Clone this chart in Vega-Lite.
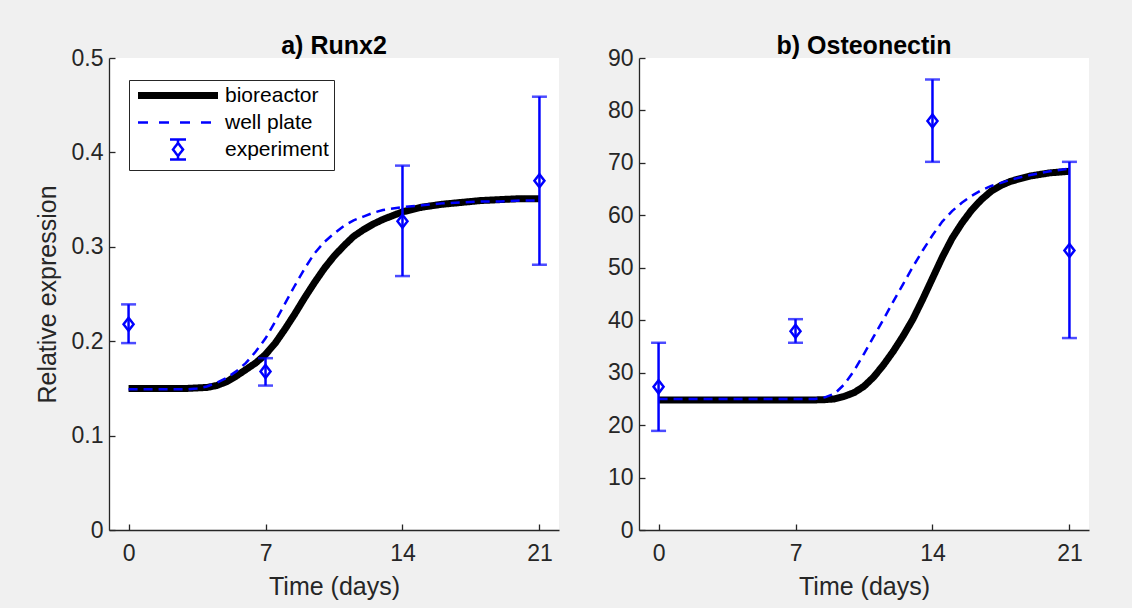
{
  "$schema": "https://vega.github.io/schema/vega-lite/v6.json",
  "background": "#f0f0f0",
  "padding": {"left": 35, "top": 34, "right": 46, "bottom": 16},
  "bounds": "flush",
  "spacing": 80,
  "config": {
    "view": {"fill": "white", "stroke": null},
    "font": "Liberation Sans",
    "axis": {"domainColor": "#262626", "domainWidth": 1.3, "tickColor": "#262626", "tickWidth": 1.3, "tickSize": -6, "labelColor": "#262626", "labelFont": "Liberation Sans", "labelFontSize": 23, "titleFont": "Liberation Sans", "titleFontSize": 25, "titleFontWeight": "normal", "titleColor": "#262626", "grid": false},
    "axisX": {"labelPadding": 18, "titlePadding": 9},
    "axisY": {"labelPadding": 12, "titlePadding": 11},
    "title": {"font": "Liberation Sans", "fontSize": 25, "fontWeight": "bold", "color": "black", "offset": -12, "frame": "group"}
  },
  "resolve": {"scale": {"color": "independent", "strokeDash": "independent", "strokeWidth": "independent"}, "legend": {"color": "independent"}},
  "datasets": {
    "runx2_model": [
      {"day": 0, "value": 0.150, "series": "bioreactor"},
      {"day": 1, "value": 0.150, "series": "bioreactor"},
      {"day": 2, "value": 0.150, "series": "bioreactor"},
      {"day": 3, "value": 0.150, "series": "bioreactor"},
      {"day": 3.5, "value": 0.1505, "series": "bioreactor"},
      {"day": 4, "value": 0.151, "series": "bioreactor"},
      {"day": 4.5, "value": 0.153, "series": "bioreactor"},
      {"day": 5, "value": 0.157, "series": "bioreactor"},
      {"day": 5.5, "value": 0.163, "series": "bioreactor"},
      {"day": 6, "value": 0.170, "series": "bioreactor"},
      {"day": 6.5, "value": 0.177, "series": "bioreactor"},
      {"day": 7, "value": 0.186, "series": "bioreactor"},
      {"day": 7.5, "value": 0.198, "series": "bioreactor"},
      {"day": 8, "value": 0.213, "series": "bioreactor"},
      {"day": 8.5, "value": 0.229, "series": "bioreactor"},
      {"day": 9, "value": 0.246, "series": "bioreactor"},
      {"day": 9.5, "value": 0.262, "series": "bioreactor"},
      {"day": 10, "value": 0.277, "series": "bioreactor"},
      {"day": 10.5, "value": 0.290, "series": "bioreactor"},
      {"day": 11, "value": 0.301, "series": "bioreactor"},
      {"day": 11.5, "value": 0.311, "series": "bioreactor"},
      {"day": 12, "value": 0.318, "series": "bioreactor"},
      {"day": 12.5, "value": 0.324, "series": "bioreactor"},
      {"day": 13, "value": 0.329, "series": "bioreactor"},
      {"day": 14, "value": 0.337, "series": "bioreactor"},
      {"day": 15, "value": 0.342, "series": "bioreactor"},
      {"day": 16, "value": 0.345, "series": "bioreactor"},
      {"day": 17, "value": 0.347, "series": "bioreactor"},
      {"day": 18, "value": 0.349, "series": "bioreactor"},
      {"day": 19, "value": 0.350, "series": "bioreactor"},
      {"day": 20, "value": 0.351, "series": "bioreactor"},
      {"day": 21, "value": 0.351, "series": "bioreactor"},
      {"day": 0, "value": 0.149, "series": "well plate"},
      {"day": 1, "value": 0.149, "series": "well plate"},
      {"day": 2, "value": 0.149, "series": "well plate"},
      {"day": 3, "value": 0.149, "series": "well plate"},
      {"day": 3.5, "value": 0.150, "series": "well plate"},
      {"day": 4, "value": 0.152, "series": "well plate"},
      {"day": 4.5, "value": 0.156, "series": "well plate"},
      {"day": 5, "value": 0.161, "series": "well plate"},
      {"day": 5.5, "value": 0.168, "series": "well plate"},
      {"day": 6, "value": 0.177, "series": "well plate"},
      {"day": 6.5, "value": 0.189, "series": "well plate"},
      {"day": 7, "value": 0.203, "series": "well plate"},
      {"day": 7.5, "value": 0.221, "series": "well plate"},
      {"day": 8, "value": 0.240, "series": "well plate"},
      {"day": 8.5, "value": 0.259, "series": "well plate"},
      {"day": 9, "value": 0.277, "series": "well plate"},
      {"day": 9.5, "value": 0.293, "series": "well plate"},
      {"day": 10, "value": 0.305, "series": "well plate"},
      {"day": 10.5, "value": 0.314, "series": "well plate"},
      {"day": 11, "value": 0.322, "series": "well plate"},
      {"day": 11.5, "value": 0.328, "series": "well plate"},
      {"day": 12, "value": 0.332, "series": "well plate"},
      {"day": 12.5, "value": 0.336, "series": "well plate"},
      {"day": 13, "value": 0.339, "series": "well plate"},
      {"day": 14, "value": 0.342, "series": "well plate"},
      {"day": 15, "value": 0.344, "series": "well plate"},
      {"day": 16, "value": 0.346, "series": "well plate"},
      {"day": 17, "value": 0.347, "series": "well plate"},
      {"day": 18, "value": 0.348, "series": "well plate"},
      {"day": 19, "value": 0.348, "series": "well plate"},
      {"day": 20, "value": 0.349, "series": "well plate"},
      {"day": 21, "value": 0.349, "series": "well plate"}
    ],
    "runx2_exp": [
      {"day": 0, "mean": 0.218, "lo": 0.198, "hi": 0.239},
      {"day": 7, "mean": 0.168, "lo": 0.153, "hi": 0.182},
      {"day": 14, "mean": 0.327, "lo": 0.269, "hi": 0.386},
      {"day": 21, "mean": 0.370, "lo": 0.281, "hi": 0.459}
    ],
    "osteo_model": [
      {"day": 0, "value": 24.8, "series": "bioreactor"},
      {"day": 2, "value": 24.8, "series": "bioreactor"},
      {"day": 4, "value": 24.8, "series": "bioreactor"},
      {"day": 6, "value": 24.8, "series": "bioreactor"},
      {"day": 8, "value": 24.8, "series": "bioreactor"},
      {"day": 8.5, "value": 24.85, "series": "bioreactor"},
      {"day": 9, "value": 25.0, "series": "bioreactor"},
      {"day": 9.5, "value": 25.5, "series": "bioreactor"},
      {"day": 10, "value": 26.2, "series": "bioreactor"},
      {"day": 10.5, "value": 27.4, "series": "bioreactor"},
      {"day": 11, "value": 29.2, "series": "bioreactor"},
      {"day": 11.5, "value": 31.5, "series": "bioreactor"},
      {"day": 12, "value": 34.1, "series": "bioreactor"},
      {"day": 12.5, "value": 37.0, "series": "bioreactor"},
      {"day": 13, "value": 40.2, "series": "bioreactor"},
      {"day": 13.5, "value": 44.0, "series": "bioreactor"},
      {"day": 14, "value": 48.0, "series": "bioreactor"},
      {"day": 14.5, "value": 52.0, "series": "bioreactor"},
      {"day": 15, "value": 55.6, "series": "bioreactor"},
      {"day": 15.5, "value": 58.5, "series": "bioreactor"},
      {"day": 16, "value": 61.0, "series": "bioreactor"},
      {"day": 16.5, "value": 63.0, "series": "bioreactor"},
      {"day": 17, "value": 64.6, "series": "bioreactor"},
      {"day": 17.5, "value": 65.7, "series": "bioreactor"},
      {"day": 18, "value": 66.5, "series": "bioreactor"},
      {"day": 19, "value": 67.5, "series": "bioreactor"},
      {"day": 20, "value": 68.1, "series": "bioreactor"},
      {"day": 21, "value": 68.4, "series": "bioreactor"},
      {"day": 0, "value": 25.0, "series": "well plate"},
      {"day": 2, "value": 25.0, "series": "well plate"},
      {"day": 4, "value": 25.0, "series": "well plate"},
      {"day": 6, "value": 25.0, "series": "well plate"},
      {"day": 8, "value": 25.0, "series": "well plate"},
      {"day": 8.5, "value": 25.3, "series": "well plate"},
      {"day": 9, "value": 26.0, "series": "well plate"},
      {"day": 9.5, "value": 27.8, "series": "well plate"},
      {"day": 10, "value": 30.4, "series": "well plate"},
      {"day": 10.5, "value": 33.6, "series": "well plate"},
      {"day": 11, "value": 36.9, "series": "well plate"},
      {"day": 11.5, "value": 40.2, "series": "well plate"},
      {"day": 12, "value": 43.6, "series": "well plate"},
      {"day": 12.5, "value": 46.9, "series": "well plate"},
      {"day": 13, "value": 50.2, "series": "well plate"},
      {"day": 13.5, "value": 53.3, "series": "well plate"},
      {"day": 14, "value": 56.2, "series": "well plate"},
      {"day": 14.5, "value": 58.8, "series": "well plate"},
      {"day": 15, "value": 60.8, "series": "well plate"},
      {"day": 15.5, "value": 62.4, "series": "well plate"},
      {"day": 16, "value": 63.7, "series": "well plate"},
      {"day": 16.5, "value": 64.8, "series": "well plate"},
      {"day": 17, "value": 65.6, "series": "well plate"},
      {"day": 17.5, "value": 66.2, "series": "well plate"},
      {"day": 18, "value": 66.8, "series": "well plate"},
      {"day": 19, "value": 67.7, "series": "well plate"},
      {"day": 20, "value": 68.4, "series": "well plate"},
      {"day": 21, "value": 68.9, "series": "well plate"}
    ],
    "osteo_exp": [
      {"day": 0, "mean": 27.3, "lo": 18.9, "hi": 35.7},
      {"day": 7, "mean": 37.9, "lo": 35.7, "hi": 40.2},
      {"day": 14, "mean": 78.0, "lo": 70.2, "hi": 85.9},
      {"day": 21, "mean": 53.3, "lo": 36.6, "hi": 70.2}
    ]
  },
  "hconcat": [
    {
      "width": 450,
      "height": 472,
      "title": "a) Runx2",
      "layer": [
        {
          "data": {"name": "runx2_model"},
          "mark": {"type": "line", "clip": true},
          "encoding": {
            "x": {"field": "day", "type": "quantitative", "scale": {"domain": [-1, 22], "nice": false, "zero": false}, "axis": {"values": [0, 7, 14, 21], "title": "Time (days)"}},
            "y": {"field": "value", "type": "quantitative", "title": "Relative expression", "scale": {"domain": [0, 0.5], "nice": false}, "axis": {"values": [0, 0.1, 0.2, 0.3, 0.4, 0.5], "format": "~g"}},
            "color": {"field": "series", "type": "nominal", "scale": {"domain": ["bioreactor", "well plate", "experiment"], "range": ["black", "#0000ff", "#0000ff"]},
              "legend": {"title": null, "orient": "none", "legendX": 20, "legendY": 22, "symbolType": "stroke", "symbolSize": 100, "rowPadding": 1, "padding": 5, "labelFontSize": 21, "labelFont": "Liberation Sans", "labelColor": "black", "strokeColor": "#262626", "fillColor": "white", "symbolStrokeWidth": 2.5,
                "encode": {
                  "symbols": {"update": {
                    "x": {"value": 44},
                    "size": {"value": 6400},
                    "shape": {"signal": "datum.value === 'experiment' ? 'M-0.2,-0.25H0.2M0,-0.25V-0.1625M0,0.1625V0.25M-0.2,0.25H0.2M0,-0.1625L0.125,0L0,0.1625L-0.125,0Z' : 'M-1,0H1'"},
                    "strokeWidth": {"signal": "datum.value === 'bioreactor' ? 7 : 2.5"},
                    "strokeDash": {"signal": "datum.value === 'well plate' ? [10,11] : [1,0]"},
                    "fill": {"value": "transparent"},
                    "opacity": {"value": 1}
                  }},
                  "labels": {"update": {"x": {"value": 91}}}
                }}},
            "strokeDash": {"field": "series", "type": "nominal", "scale": {"domain": ["bioreactor", "well plate"], "range": [[1, 0], [9, 6]]}, "legend": null},
            "strokeWidth": {"field": "series", "type": "nominal", "scale": {"domain": ["bioreactor", "well plate"], "range": [7, 2.5]}, "legend": null}
          }
        },
        {
          "data": {"name": "runx2_exp"},
          "mark": {"type": "errorbar", "color": "#0000ff", "ticks": {"size": 15, "thickness": 2.5, "color": "#0000ff"}, "rule": {"strokeWidth": 2.5, "color": "#0000ff"}},
          "encoding": {
            "x": {"field": "day", "type": "quantitative"},
            "y": {"field": "lo", "type": "quantitative", "title": "Relative expression"},
            "y2": {"field": "hi"}
          }
        },
        {
          "data": {"name": "runx2_exp"},
          "mark": {"type": "point", "shape": "M0,-1L0.77,0L0,1L-0.77,0Z", "size": 169, "filled": false, "strokeWidth": 2.5, "color": "#0000ff", "opacity": 1},
          "encoding": {
            "x": {"field": "day", "type": "quantitative"},
            "y": {"field": "mean", "type": "quantitative", "title": "Relative expression"}
          }
        }
      ]
    },
    {
      "width": 450,
      "height": 472,
      "title": "b) Osteonectin",
      "layer": [
        {
          "data": {"name": "osteo_model"},
          "mark": {"type": "line", "clip": true},
          "encoding": {
            "x": {"field": "day", "type": "quantitative", "scale": {"domain": [-1, 22], "nice": false, "zero": false}, "axis": {"values": [0, 7, 14, 21], "title": "Time (days)"}},
            "y": {"field": "value", "type": "quantitative", "title": null, "scale": {"domain": [0, 90], "nice": false}, "axis": {"values": [0, 10, 20, 30, 40, 50, 60, 70, 80, 90]}},
            "color": {"field": "series", "type": "nominal", "scale": {"domain": ["bioreactor", "well plate"], "range": ["black", "#0000ff"]}, "legend": null},
            "strokeDash": {"field": "series", "type": "nominal", "scale": {"domain": ["bioreactor", "well plate"], "range": [[1, 0], [9, 6]]}, "legend": null},
            "strokeWidth": {"field": "series", "type": "nominal", "scale": {"domain": ["bioreactor", "well plate"], "range": [7, 2.5]}, "legend": null}
          }
        },
        {
          "data": {"name": "osteo_exp"},
          "mark": {"type": "errorbar", "color": "#0000ff", "ticks": {"size": 15, "thickness": 2.5, "color": "#0000ff"}, "rule": {"strokeWidth": 2.5, "color": "#0000ff"}},
          "encoding": {
            "x": {"field": "day", "type": "quantitative"},
            "y": {"field": "lo", "type": "quantitative", "title": null},
            "y2": {"field": "hi"}
          }
        },
        {
          "data": {"name": "osteo_exp"},
          "mark": {"type": "point", "shape": "M0,-1L0.77,0L0,1L-0.77,0Z", "size": 169, "filled": false, "strokeWidth": 2.5, "color": "#0000ff", "opacity": 1},
          "encoding": {
            "x": {"field": "day", "type": "quantitative"},
            "y": {"field": "mean", "type": "quantitative", "title": null}
          }
        }
      ]
    }
  ]
}
